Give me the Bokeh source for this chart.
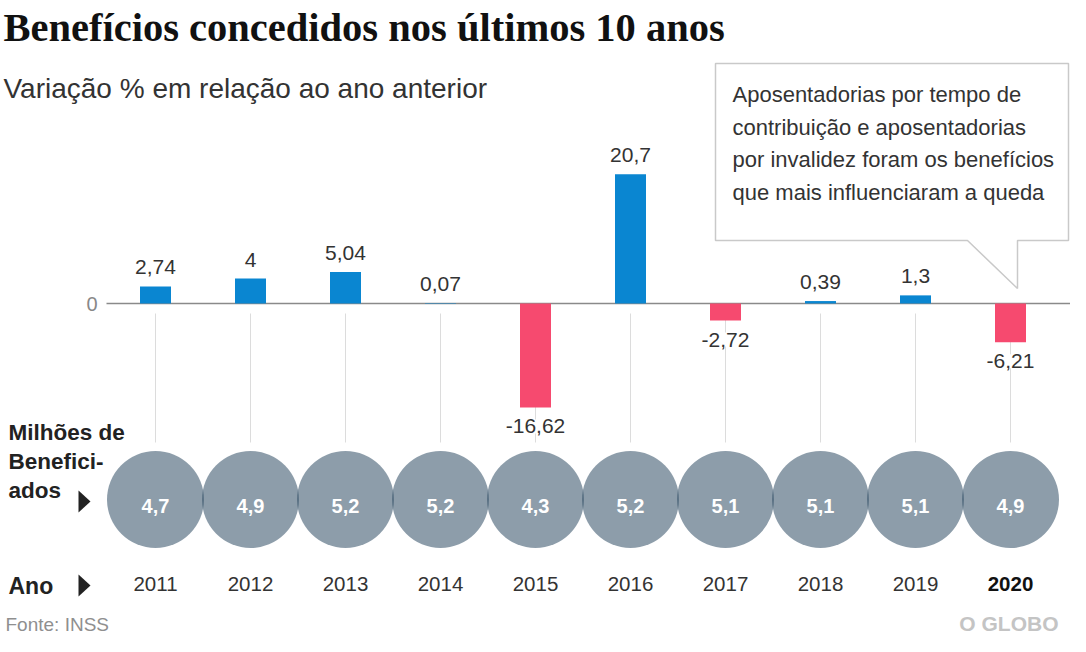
import math
from bokeh.plotting import figure
from bokeh.models import ColumnDataSource, LabelSet, Range1d
from bokeh.embed import file_html
from bokeh.resources import INLINE
from bokeh.core.properties import value

# ---------------- data ----------------
years = [2011, 2012, 2013, 2014, 2015, 2016, 2017, 2018, 2019, 2020]
variation = [2.74, 4, 5.04, 0.07, -16.62, 20.7, -2.72, 0.39, 1.3, -6.21]
beneficiaries = [4.7, 4.9, 5.2, 5.2, 4.3, 5.2, 5.1, 5.1, 5.1, 4.9]
year_labels = [str(y) for y in years]
highlight_year = 2020

title_text = "Benefícios concedidos nos últimos 10 anos"
subtitle_text = "Variação % em relação ao ano anterior"
note_lines = ["Aposentadorias por tempo de",
              "contribuição e  aposentadorias",
              "por invalidez foram os benefícios",
              "que mais influenciaram a queda"]
row_label_lines = ["Milhões de", "Benefici-", "ados"]
year_row_label = "Ano"
zero_label = "0"
source_text = "Fonte: INSS"
brand_text = "O GLOBO"


def br(v):
    return f"{v:g}".replace(".", ",")


# ---------------- layout (pixels of the picture) ----------------
W, H = 1070, 636
X0, DX = 155, 95    # pixel of first year, pixels per year
Y0, KY = 303, 6.25  # pixel of zero line, pixels per percent point

SANS = "Liberation Sans"
SERIF = "Liberation Serif"
BLUE = "#0a86d1"
RED = "#f64a6f"
TXT = "#333333"


def X(px):
    return years[0] + (px - X0) / DX


def Y(py):
    return (Y0 - py) / KY


p = figure(width=W, height=H,
           x_range=Range1d(X(0), X(W)),
           y_range=Range1d(Y(H), Y(0)),
           x_axis_location=None, y_axis_location=None,
           output_backend="svg", toolbar_location=None, min_border=0)
p.grid.visible = False
p.outline_line_color = None
p.background_fill_color = "white"
p.border_fill_color = "white"


def txt(px, py, s, size, color=TXT, font=SANS, style="normal",
        align="left"):
    p.text(x=[X(px)], y=[Y(py)], text=[s], text_font=value(font),
           text_font_size=f"{size}px", text_font_style=style,
           text_color=color, text_align=align, text_baseline="middle")


# vertical guide lines
p.segment(x0=years, y0=Y(313), x1=years, y1=Y(442),
          line_color="#dcdcdc", line_width=1)

# zero line
p.segment(x0=[X(106)], y0=[0], x1=[X(1070)], y1=[0],
          line_color="#8a8a8a", line_width=1.5)

# bars
bar_src = ColumnDataSource(dict(
    x=years,
    v=variation,
    color=[BLUE if v >= 0 else RED for v in variation],
    lab=[br(v) for v in variation],
    ly=[v + math.copysign(19 / KY, v) for v in variation],
))
p.vbar(x="x", top="v", bottom=0, width=31 / DX, fill_color="color",
       line_color=None, source=bar_src)
p.add_layout(LabelSet(x="x", y="ly", text="lab", source=bar_src,
                      text_align="center", text_baseline="middle",
                      text_font=value(SANS), text_font_size="21px",
                      text_color=TXT, background_fill_color="white"))

# annotation box
box = [(715, 63), (1068, 63), (1068, 240), (1017, 240), (1017, 288),
       (967, 240), (715, 240)]
p.patch(x=[X(a) for a, b in box], y=[Y(b) for a, b in box],
        fill_color="white", line_color="#c9c9c9", line_width=1.5)
for i, line in enumerate(note_lines):
    txt(732, 94 + i * 32.7, line, 22)

# circles for beneficiaries
circ_src = ColumnDataSource(dict(
    x=years, y=[Y(499)] * len(years),
    ly=[Y(505)] * len(years),
    lab=[br(b) for b in beneficiaries],
))
p.scatter(x="x", y="y", size=97, marker="circle", fill_color="#335067",
          fill_alpha=0.56, line_color=None, source=circ_src)
p.text(x="x", y="ly", text="lab", source=circ_src, text_font=value(SANS),
       text_font_size="20px", text_font_style="bold", text_color="white",
       text_align="center", text_baseline="middle")

# year labels
year_src = ColumnDataSource(dict(
    x=years, y=[Y(583)] * len(years), lab=year_labels,
    style=["bold" if y == highlight_year else "normal" for y in years],
    color=["#111111" if y == highlight_year else TXT for y in years],
))
p.text(x="x", y="y", text="lab", source=year_src, text_font=value(SANS),
       text_font_size="20.5px", text_font_style="style", text_color="color",
       text_align="center", text_baseline="middle")

# row labels + arrows
for i, line in enumerate(row_label_lines):
    txt(8, 432 + i * 29, line, 22.5, color="#222222", style="bold")
txt(8, 585, year_row_label, 23, color="#222222", style="bold")
tri_centers = [(84, 501), (84, 585)]
p.patches(xs=[[X(cx - 6), X(cx + 6), X(cx - 6)] for cx, cy in tri_centers],
          ys=[[Y(cy - 11), Y(cy), Y(cy + 11)] for cx, cy in tri_centers],
          fill_color="#222222", line_color=None)

# zero tick label
txt(97, 303, zero_label, 20, color="#888888", align="right")

# titles
txt(3, 27, title_text, 40.5, color="#111111", font=SERIF, style="bold")
txt(3, 88, subtitle_text, 28, color=TXT)

# footer
txt(5, 624, source_text, 19, color="#8f8f8f")
txt(1058, 623, brand_text, 21, color="#c4c4c4", style="bold", align="right")

open("out.html", "w").write(file_html(p, INLINE))
